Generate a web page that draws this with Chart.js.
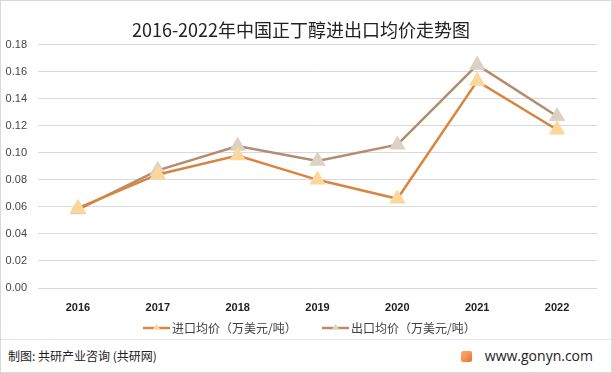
<!DOCTYPE html>
<html>
<head>
<meta charset="utf-8">
<script src="https://cdn.jsdelivr.net/npm/chart.js@4"></script>
<style>
  html, body { margin: 0; padding: 0; background: #fff; }
  .frame {
    position: relative;
    width: 610px; height: 371px;
    border: 1px solid #d9d9d9;
    font-family: "Noto Sans CJK SC", "Noto Sans", sans-serif;
  }
  .chart-box { position: absolute; left: 0; top: 0; width: 610px; height: 338px; }
  .footer {
    position: absolute; left: 0; top: 338px; width: 610px; height: 33px;
    border-top: 1px solid #e6e6e6;
    color: #222;
  }
  .footer .src { position: absolute; left: 7px; top: 7px; font-size: 12px; }
  .footer .site { position: absolute; right: 18px; top: 6px; font-size: 14px; font-family: "Open Sans", sans-serif; }
  .footer .logo {
    display: inline-block; width: 11px; height: 11px; margin-right: 13px;
    vertical-align: -1px; border-radius: 2px;
    background: linear-gradient(135deg, #f9b36a, #ef6c3a);
  }
</style>
</head>
<body>
<div class="frame">
  <div class="chart-box"><canvas id="priceChart" width="610" height="338"></canvas></div>
  <div class="footer">
    <span class="src">制图: 共研产业咨询 (共研网)</span>
    <span class="site"><span class="logo"></span>www.gonyn.com</span>
  </div>
</div>
<script>
// 年份与两条价格序列（万美元/吨）
const years = ['2016', '2017', '2018', '2019', '2020', '2021', '2022'];
const importPrice = [0.059, 0.084, 0.098, 0.080, 0.066, 0.153, 0.117];
const exportPrice = [0.058, 0.087, 0.105, 0.094, 0.106, 0.165, 0.127];
const yTicks = [0, 0.02, 0.04, 0.06, 0.08, 0.10, 0.12, 0.14, 0.16, 0.18];

// 图例：线段中间带小三角，位置手动摆放
const legendX = [142, 321];
const lineLegend = {
    id: 'lineLegend',
    afterDraw(chart) {
        const c = chart.ctx;
        const y = 327;
        chart.data.datasets.forEach((ds, i) => {
            const x = legendX[i];
            c.save();
            c.strokeStyle = ds.borderColor;
            c.lineWidth = 2.5;
            c.beginPath();
            c.moveTo(x, y);
            c.lineTo(x + 27, y);
            c.stroke();
            c.fillStyle = ds.pointBackgroundColor;
            c.beginPath();
            c.moveTo(x + 13.5, y - 4);
            c.lineTo(x + 17.5, y + 1.5);
            c.lineTo(x + 9.5, y + 1.5);
            c.closePath();
            c.fill();
            c.fillStyle = '#404040';
            c.font = "12px 'Noto Sans CJK SC', sans-serif";
            c.textBaseline = 'middle';
            c.fillText(ds.label, x + 29, y);
            c.restore();
        });
    }
};

const ctx = document.getElementById('priceChart').getContext('2d');

new Chart(ctx, {
    type: 'line',
    data: {
        labels: years,
        datasets: [
            {
                label: '进口均价（万美元/吨）',
                data: importPrice,
                borderColor: '#d9843f',
                backgroundColor: '#d9843f',
                borderWidth: 2.5,
                pointStyle: 'triangle',
                pointRadius: 7,
                pointBackgroundColor: '#fcd69a',
                pointBorderColor: '#fcd69a',
                tension: 0
            },
            {
                label: '出口均价（万美元/吨）',
                data: exportPrice,
                borderColor: '#b58c6e',
                backgroundColor: '#b58c6e',
                borderWidth: 2.5,
                pointStyle: 'triangle',
                pointRadius: 7,
                pointBackgroundColor: '#dad3c3',
                pointBorderColor: '#dad3c3',
                tension: 0
            }
        ]
    },
    plugins: [lineLegend],
    options: {
        responsive: false,
        animation: false,
        layout: { padding: { left: 4, right: 14, top: 0, bottom: 24 } },
        plugins: {
            title: {
                display: true,
                text: '2016-2022年中国正丁醇进出口均价走势图',
                color: '#222',
                font: { family: "'Noto Sans CJK SC', sans-serif", size: 18, weight: 'normal' },
                padding: { top: 18, bottom: 4 }
            },
            legend: { display: false },
            tooltip: { enabled: false }
        },
        scales: {
            x: {
                offset: true,
                afterFit: axis => { axis.height = 27; },
                grid: { display: false, drawTicks: false },
                border: { display: false },
                ticks: {
                    color: '#222',
                    font: { family: "'Liberation Sans', sans-serif", size: 11, weight: 'bold' },
                    padding: 13
                }
            },
            y: {
                min: 0,
                max: 0.18,
                afterBuildTicks: axis => { axis.ticks = yTicks.map(v => ({ value: v })); },
                afterFit: axis => { axis.width = 33; },
                grid: { color: '#d9d9d9', drawTicks: false },
                border: { display: false },
                ticks: {
                    color: '#444',
                    font: { family: "'Liberation Sans', sans-serif", size: 11 },
                    padding: 11,
                    callback: value => value.toFixed(2)
                }
            }
        }
    }
});
</script>
</body>
</html>
